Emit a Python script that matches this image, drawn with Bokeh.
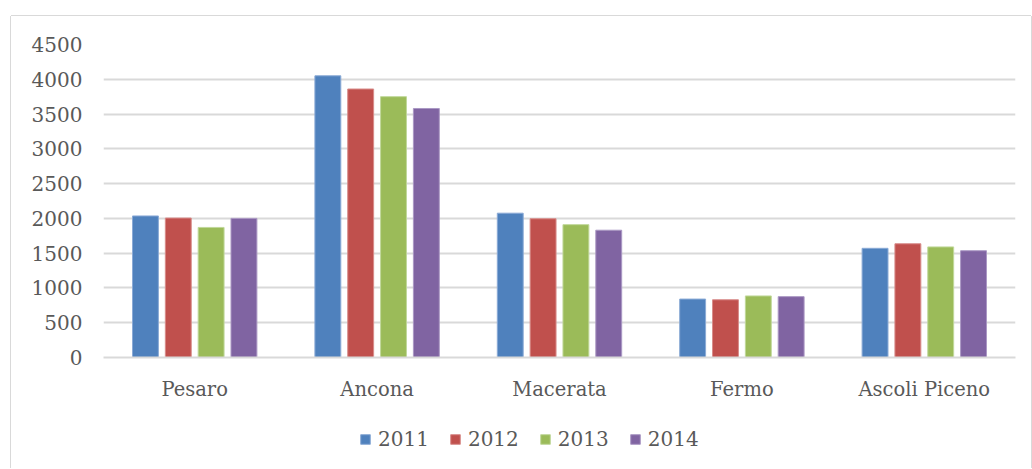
from bokeh.plotting import figure
from bokeh.layouts import column
from bokeh.models import ColumnDataSource, FactorRange, Range1d, Legend, LegendItem, SingleIntervalTicker
from bokeh.transform import dodge
from bokeh.embed import file_html
from bokeh.resources import INLINE

categories = ["Pesaro", "Ancona", "Macerata", "Fermo", "Ascoli Piceno"]
years = ["2011", "2012", "2013", "2014"]
v2011 = [2035, 4050, 2075, 840, 1570]
v2012 = [2005, 3860, 1995, 830, 1635]
v2013 = [1870, 3750, 1910, 885, 1590]
v2014 = [2000, 3580, 1830, 875, 1535]

colors = ["#4F81BD", "#C0504D", "#9BBB59", "#8064A2"]
edges = ["#8AAAD6", "#D88C8A", "#C0D89A", "#AB98C4"]
FONT = "DejaVu Serif"
TXT = "#595959"
GRID = "#D9D9D9"

src = ColumnDataSource(dict(cat=categories, y2011=v2011, y2012=v2012, y2013=v2013, y2014=v2014))
xr = FactorRange(*categories, range_padding=0)

p = figure(x_range=xr, y_range=Range1d(0, 4500),
           width=1020, height=398, output_backend="svg", toolbar_location=None,
           min_border_left=92, min_border_right=16, min_border_top=28, min_border_bottom=57)
p.outline_line_color = None
p.background_fill_color = "white"
p.border_fill_color = "white"

pitch = 0.18
offsets = [-1.5 * pitch, -0.5 * pitch, 0.5 * pitch, 1.5 * pitch]
for yr, off, c, e in zip(years, offsets, colors, edges):
    p.vbar(x=dodge("cat", off, range=xr), top="y" + yr, width=0.142, bottom=0,
           source=src, fill_color=c, line_color=e, line_width=1)

p.yaxis.ticker = SingleIntervalTicker(interval=500)
p.yaxis.axis_line_color = None
p.yaxis.major_tick_line_color = None
p.yaxis.minor_tick_line_color = None
p.yaxis.major_tick_out = 0
p.yaxis.major_tick_in = 0
p.yaxis.major_label_standoff = 17
p.yaxis.major_label_text_font = FONT
p.yaxis.major_label_text_font_size = "20px"
p.yaxis.major_label_text_color = TXT

p.xaxis.axis_line_color = GRID
p.xaxis.axis_line_width = 2
p.xaxis.major_tick_line_color = None
p.xaxis.major_tick_out = 0
p.xaxis.major_tick_in = 0
p.xaxis.major_label_standoff = 20
p.xaxis.major_label_text_font = FONT
p.xaxis.major_label_text_font_size = "19.5px"
p.xaxis.major_label_text_color = TXT

p.xgrid.grid_line_color = None
p.ygrid.grid_line_color = GRID
p.ygrid.grid_line_width = 2

# legend strip below the chart (hidden renderers only provide the legend swatches)
pl = figure(width=1020, height=54, output_backend="svg", toolbar_location=None,
            x_range=xr, y_range=Range1d(0, 1),
            x_axis_location=None, y_axis_location=None,
            min_border_left=0, min_border_right=0, min_border_top=0, min_border_bottom=0)
pl.outline_line_color = None
pl.grid.visible = False
pl.background_fill_color = "white"
pl.border_fill_color = "white"
leg_renderers = []
for yr, c, e in zip(years, colors, edges):
    r = pl.vbar(x="cat", top="y" + yr, width=0.1, source=src,
                fill_color=c, line_color=e, line_width=1)
    r.visible = False
    leg_renderers.append(r)
legend = Legend(items=[LegendItem(label=yr, renderers=[r]) for yr, r in zip(years, leg_renderers)],
                orientation="horizontal", location=(256, 17),
                label_text_font=FONT, label_text_font_size="20px", label_text_color=TXT,
                glyph_width=12, glyph_height=12, label_standoff=7, spacing=20,
                inactive_fill_alpha=0,
                border_line_color=None, background_fill_alpha=0, padding=0, margin=0)
pl.add_layout(legend, "center")

layout = column(p, pl, spacing=0)
layout.margin = (16, 0, 0, 11)
layout.styles = {"box-shadow": "-1px 0 0 0 #D9D9D9, 1px 0 0 0 #D9D9D9, 0 -1px 0 0 #D9D9D9"}

open("out.html", "w").write(file_html(layout, INLINE))
